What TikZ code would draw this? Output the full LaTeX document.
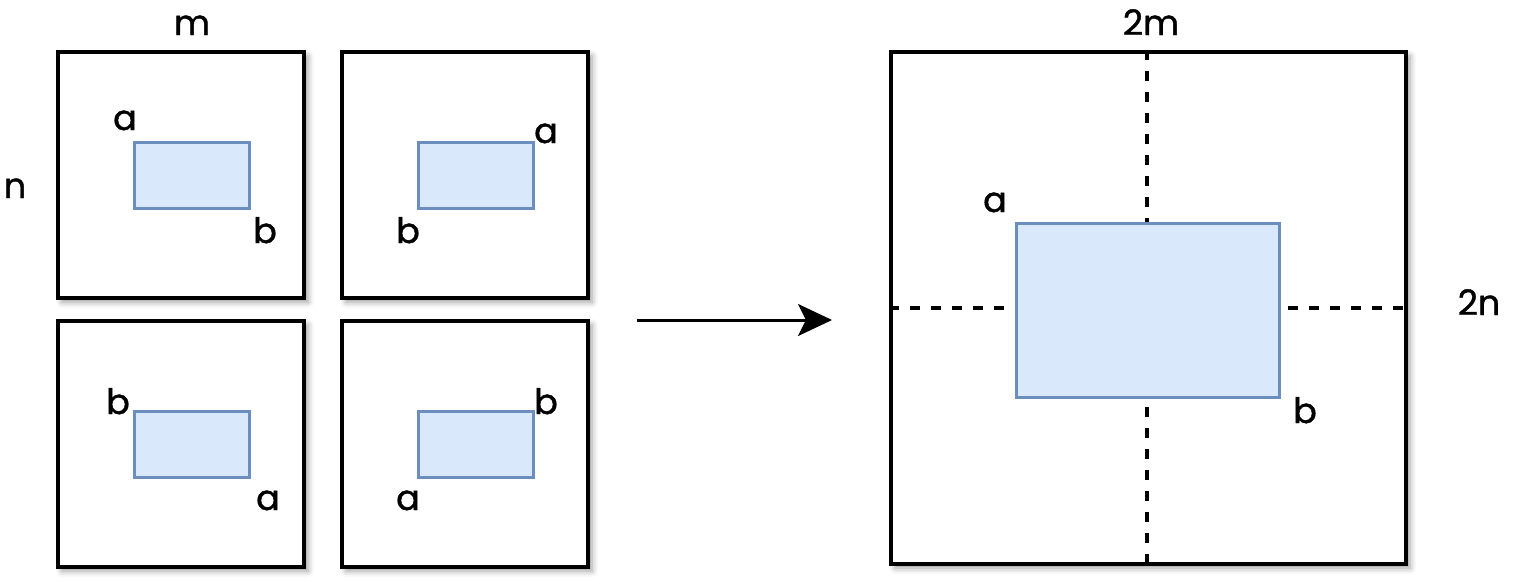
\documentclass[tikz,border=0pt]{standalone}
\usepackage{fontspec}
\setmainfont{Poppins}[FakeBold=1.2]
\usetikzlibrary{arrows.meta,shadows.blur}
\definecolor{bluefill}{HTML}{DAE8FC}
\definecolor{bluedraw}{HTML}{6C8EBF}
\tikzset{
  frame/.style={draw=black, fill=white, line width=3.5pt, rectangle, inner sep=0pt,
    blur shadow={shadow xshift=4pt, shadow yshift=-4pt, shadow blur radius=6pt, shadow opacity=40}},
  smallframe/.style={frame, minimum width=246pt, minimum height=246pt},
  inner/.style={draw=bluedraw, fill=bluefill, line width=3pt, rectangle, inner sep=0pt},
  smallinner/.style={inner, minimum width=115pt, minimum height=66pt},
  lbl/.style={anchor=base, inner sep=0pt, font=\fontsize{35}{40}\selectfont},
  divline/.style={draw=black, line width=3.8pt, dash pattern=on 10pt off 11pt},
  arrowline/.style={draw=black, line width=3pt, -{Stealth[length=34pt, width=32pt, inset=8pt]}}
}
\begin{document}
\begin{tikzpicture}[x=1pt,y=-1pt]
\useasboundingbox (0,0) rectangle (1515,581);
% small frames
\node[smallframe] (tl) at (181,175) {};
\node[smallframe] (tr) at (465,175) {};
\node[smallframe] (bl) at (181,444) {};
\node[smallframe] (br) at (465,444) {};
\node[smallinner] (tlr) at (191.5,175) {};
\node[smallinner] (trr) at (475.5,175) {};
\node[smallinner] (blr) at (191.5,444) {};
\node[smallinner] (brr) at (475.5,444) {};
% labels small
\node[lbl] (m) at (192,35) {m};
\node[lbl] (n) at (15,198) {n};
\node[lbl] (tla) at (125,130) {a};
\node[lbl] (tlb) at (265,243) {b};
\node[lbl] (tra) at (546,143) {a};
\node[lbl] (trb) at (408,243) {b};
\node[lbl] (blb) at (118,414) {b};
\node[lbl] (bla) at (268,510) {a};
\node[lbl] (brb) at (546,414) {b};
\node[lbl] (bra) at (408,510) {a};
% arrow
\coordinate (arrS) at (637,320);
\coordinate (arrE) at (832,320);
\draw[arrowline] (arrS) -- (arrE);
% big frame
\node[frame, minimum width=515pt, minimum height=512pt] (big) at (1148.5,308) {};
\draw[divline] (big.north) ++(-1.5,0) coordinate (vtop) -- (vtop |- big.south);
\draw[divline] (big.west) -- (big.east);
\node[inner, minimum width=263pt, minimum height=174pt] (bigr) at (1147.5,310) {};
\node[lbl] (m2) at (1151,35) {2m};
\node[lbl] (n2) at (1479,315) {2n};
\node[lbl] (biga) at (995,212) {a};
\node[lbl] (bigb) at (1305,423) {b};
\end{tikzpicture}
\end{document}
